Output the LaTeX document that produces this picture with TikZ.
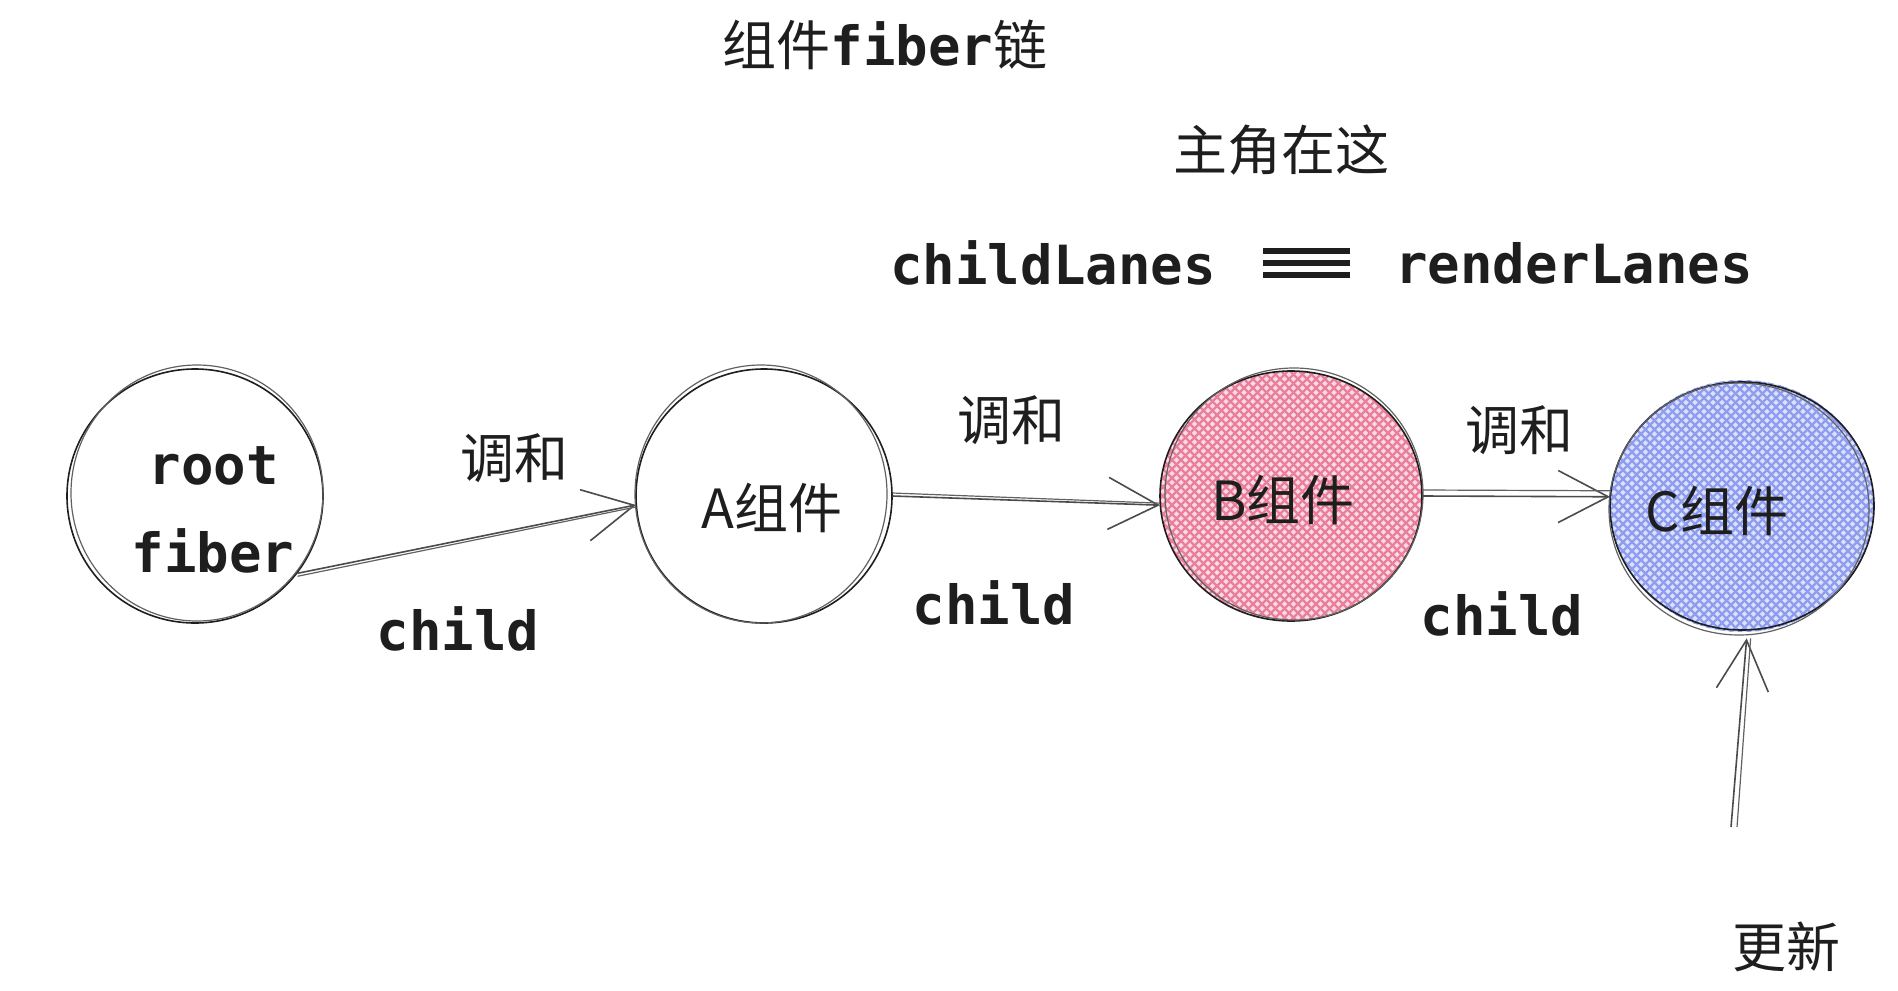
\documentclass[tikz,border=0pt]{standalone}
\usepackage{fontspec}
\setmonofont{DejaVu Sans Mono}
\newfontfamily\cjk{Noto Sans CJK SC}
\usetikzlibrary{arrows.meta}
\definecolor{pinkfill}{HTML}{FADBE4}
\definecolor{pinkline}{HTML}{EA7F9D}
\definecolor{bluefill}{HTML}{DCE1FC}
\definecolor{blueline}{HTML}{8E9DF0}
\definecolor{ink}{HTML}{1E1E1E}
\tikzset{
  fiber/.style={circle, inner sep=0pt, minimum size=256pt*0.5, draw=none},
  sketch/.style={draw=ink, line width=0.8pt},
  conn/.style={draw=ink!80, line width=0.8pt, -{Straight Barb[length=25pt,width=26pt,line width=0.8pt]}},
  conntwo/.style={draw=ink!70, line width=0.6pt},
  mono/.style={text=ink, font=\fontsize{27}{32}\selectfont\ttfamily\bfseries, inner sep=0pt},
  zh/.style={text=ink, font=\fontsize{27}{32}\selectfont\cjk, inner sep=0pt},
  hatchB/.style={pinkline, line width=1.1pt},
  hatchC/.style={blueline, line width=1.1pt},
}
\begin{document}
\begin{tikzpicture}[x=0.5pt,y=-0.5pt]
\useasboundingbox (0,0) rectangle (1898,990);
\fill[white] (0,0) rectangle (1898,990);

% circles
\node[fiber] (root) at (195,496) {};
\node[fiber] (A) at (764,496) {};
\node[fiber, minimum size=131pt] (B) at (1291,496) {};
\node[fiber, minimum size=132pt] (C) at (1742,506) {};

% hatched fills
\begin{scope}
  \clip (B.center) ellipse [x radius=65.5pt, y radius=62.5pt];
  \fill[pinkfill] (B.center) ellipse [x radius=66pt, y radius=63pt];
  \foreach \i in {-500,-491,...,-100} \draw[hatchB] (B.center) ++(\i,-300) -- ++(600,600);
  \foreach \i in {100,109,...,500} \draw[hatchB] (B.center) ++(\i,-300) -- ++(-600,600);
\end{scope}
\begin{scope}
  \clip (C.center) ellipse [x radius=66pt, y radius=63pt];
  \fill[bluefill] (C.center) ellipse [x radius=66pt, y radius=63pt];
  \foreach \i in {-500,-491,...,-100} \draw[hatchC] (C.center) ++(\i,-300) -- ++(600,600);
  \foreach \i in {100,109,...,500} \draw[hatchC] (C.center) ++(\i,-300) -- ++(-600,600);
\end{scope}

% sketchy outlines
\draw[sketch] (root.center) ellipse [x radius=64pt, y radius=63.5pt];
\draw[sketch, ink!70, line width=0.6pt] (root.center) ++(2,-3) ellipse [x radius=63pt, y radius=64pt];
\draw[sketch] (A.center) ellipse [x radius=64pt, y radius=63.5pt];
\draw[sketch, ink!70, line width=0.6pt] (A.center) ++(-3,-2) ellipse [x radius=63pt, y radius=64.5pt];
\draw[sketch] (B.center) ellipse [x radius=65.5pt, y radius=62.5pt];
\draw[sketch, ink!70, line width=0.6pt] (B.center) ++(3,-2) ellipse [x radius=64.5pt, y radius=63pt];
\draw[sketch] (C.center) ellipse [x radius=66pt, y radius=62pt];
\draw[sketch, ink!70, line width=0.6pt] (C.center) ++(-3,3) ellipse [x radius=65pt, y radius=63pt];

% connectors
\draw[conn] (root.-37) -- (A.184);
\draw[conntwo] ([yshift=-1.5pt]root.-37) -- ([yshift=-1pt]A.184);
\draw[conn] (A.east) -- (B.184);
\draw[conntwo] ([yshift=1.5pt]A.east) -- ([yshift=1pt]B.184);
\draw[conn] (B.east) -- (C.176);
\draw[conntwo] ([yshift=3pt]B.east) -- ([yshift=3pt]C.176);
\coordinate (upd) at (1731,827);
\draw[conn] (upd) -- (C.-88);
\draw[conntwo] ([xshift=3pt]upd) -- ([xshift=2pt]C.-88);

% texts
\node[zh] (title) at (885,45) {组件{\ttfamily\bfseries fiber}链};
\node[zh] (hero) at (1281,150) {主角在这};
\node[mono] (cl) at (1053,263) {childLanes};
\node[mono] (rl) at (1574,263) {renderLanes};
\draw[ink, line width=2.6pt] (1263,251) -- (1350,251);
\draw[ink, line width=2.6pt] (1263,263) -- (1350,263);
\draw[ink, line width=2.6pt] (1263,275) -- (1350,275);

\node[mono] (rt) at (214,466) {root};
\node[mono] (fb) at (213,551) {fiber};
\node[zh] (Alab) at (772,508) {A组件};
\node[zh] (Blab) at (1283,500) {B组件};
\node[zh] (Clab) at (1717,511) {C组件};

\node[zh] (h1) at (514,458) {调和};
\node[mono] (c1) at (458,629) {child};
\node[zh] (h2) at (1011,420) {调和};
\node[mono] (c2) at (994,603) {child};
\node[zh] (h3) at (1519,430) {调和};
\node[mono] (c3) at (1502,614) {child};
\node[zh] (upl) at (1786,947) {更新};
\end{tikzpicture}
\end{document}
